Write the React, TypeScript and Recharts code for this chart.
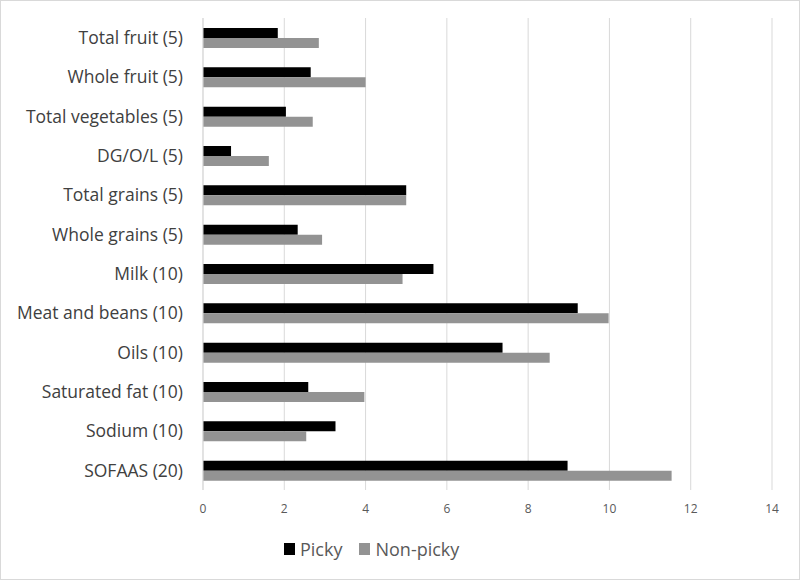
import React from 'react';
import { BarChart, Bar, XAxis, YAxis, CartesianGrid, Legend } from 'recharts';

// HEI component scores (max score in brackets)
const categories = [
  'Total fruit (5)',
  'Whole fruit (5)',
  'Total vegetables (5)',
  'DG/O/L (5)',
  'Total grains (5)',
  'Whole grains (5)',
  'Milk (10)',
  'Meat and beans (10)',
  'Oils (10)',
  'Saturated fat (10)',
  'Sodium (10)',
  'SOFAAS (20)',
];
const picky = [1.84, 2.65, 2.04, 0.69, 5.0, 2.33, 5.67, 9.22, 7.37, 2.59, 3.26, 8.97];
const nonPicky = [2.85, 4.0, 2.7, 1.62, 5.0, 2.93, 4.91, 9.98, 8.53, 3.97, 2.54, 11.53];
const xTicks = [0, 2, 4, 6, 8, 10, 12, 14];

const series = [
  { key: 'picky', name: 'Picky', color: '#000000' },
  { key: 'nonPicky', name: 'Non-picky', color: '#939393' },
];

const data = categories.map((name, i) => ({
  name,
  picky: picky[i],
  nonPicky: nonPicky[i],
}));

const FONT = '"Open Sans", Lato, sans-serif';

// keep legend order as in the original (vertical layout would flip it)
const renderLegend = () => (
  <div style={{ display: 'flex', alignItems: 'center', fontFamily: FONT, fontSize: 18, color: '#595959' }}>
    {series.map((s, i) => (
      <div key={s.key} style={{ display: 'flex', alignItems: 'center', marginRight: i === 0 ? 17 : 0 }}>
        <span style={{ width: 11, height: 12, background: s.color, display: 'inline-block', marginRight: 5 }} />
        <span>{s.name}</span>
      </div>
    ))}
  </div>
);

export default function App() {
  return (
    <div
      style={{
        position: 'absolute',
        left: 0,
        top: 0,
        width: 800,
        height: 580,
        background: '#fff',
        boxSizing: 'border-box',
        border: '1px solid #d9d9d9',
        fontFamily: FONT,
      }}
    >
      <BarChart
        width={798}
        height={578}
        data={data}
        layout="vertical"
        margin={{ top: 17, right: 27, left: 0, bottom: 0 }}
        barSize={10}
        barGap={0}
      >
        <CartesianGrid horizontal={false} stroke="#d9d9d9" />
        <XAxis
          type="number"
          domain={[0, 14]}
          ticks={xTicks}
          interval={0}
          axisLine={false}
          tickLine={false}
          tickMargin={8}
          height={65}
          tick={{ fontSize: 12, fill: '#595959', fontFamily: FONT }}
        />
        <YAxis
          type="category"
          dataKey="name"
          width={202}
          axisLine={{ stroke: '#d9d9d9' }}
          tickLine={false}
          tickMargin={14}
          interval={0}
          tick={{ fontSize: 17.5, fill: '#404040', fontFamily: FONT }}
        />
        <Legend
          content={renderLegend}
          wrapperStyle={{ position: 'absolute', left: 283, top: 536, width: 'auto', height: 24 }}
        />
        {series.map((s) => (
          <Bar key={s.key} dataKey={s.key} name={s.name} fill={s.color} isAnimationActive={false} />
        ))}
      </BarChart>
    </div>
  );
}
